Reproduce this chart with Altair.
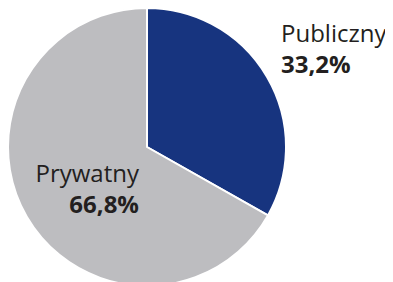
import altair as alt
import pandas as pd

categories = ["Publiczny", "Prywatny"]
values = [33.2, 66.8]
labels = ["33,2%", "66,8%"]
colors = ["#17347f", "#bdbdc0"]

df = pd.DataFrame({"cat": categories, "val": values, "lab": labels, "order": [0, 1]})

base = alt.Chart(df)

pie = base.mark_arc(outerRadius=139, stroke="white", strokeWidth=2).encode(
    theta=alt.Theta("val:Q", stack=True),
    order=alt.Order("order:Q"),
    color=alt.Color("cat:N", scale=alt.Scale(domain=categories, range=colors), legend=None),
    x=alt.value(139),
    y=alt.value(139),
)

FONT = "Open Sans"
TXT = "#231f20"

def name_text(cat, x, y, align):
    return base.transform_filter(alt.datum.cat == cat).mark_text(
        font=FONT, fontSize=24, color=TXT, align=align, baseline="alphabetic"
    ).encode(text="cat:N", x=alt.value(x), y=alt.value(y))

def pct_text(cat, x, y, align):
    return base.transform_filter(alt.datum.cat == cat).mark_text(
        font=FONT, fontSize=24, fontWeight="bold", color=TXT, align=align, baseline="alphabetic"
    ).encode(text="lab:N", x=alt.value(x), y=alt.value(y))

chart = alt.layer(
    pie,
    name_text("Publiczny", 273, 34, "left"),
    pct_text("Publiczny", 273, 65, "left"),
    name_text("Prywatny", 131, 174, "right"),
    pct_text("Prywatny", 131, 205, "right"),
).properties(
    width=377, height=274, padding=0, autosize=alt.AutoSizeParams(type="none")
).configure_view(stroke=None)

chart.save("out.html", embed_options={"renderer": "svg", "actions": False})
